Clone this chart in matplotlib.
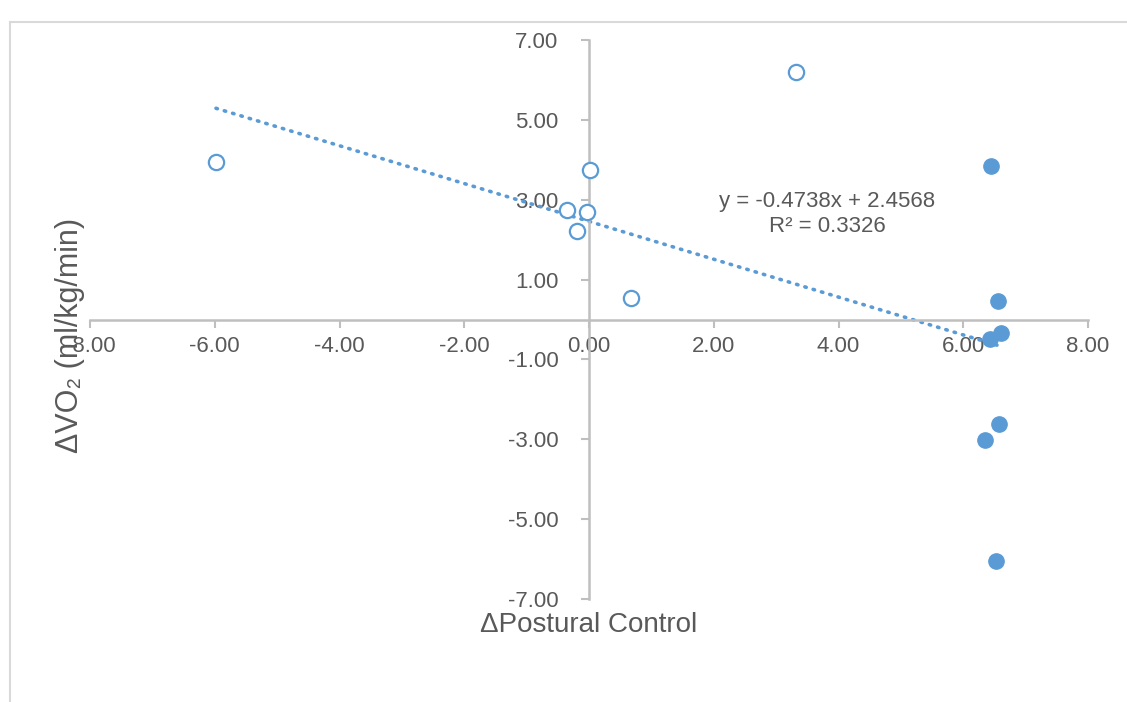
import matplotlib
matplotlib.use("Agg")
import matplotlib.pyplot as plt
from matplotlib.lines import Line2D
import numpy as np

# open markers and filled markers
open_x = [-5.98, 3.32, 0.02, -0.35, -0.03, -0.19, 0.67]
open_y = [3.94, 6.20, 3.74, 2.74, 2.69, 2.22, 0.54]
filled_x = [6.44, 6.55, 6.60, 6.43, 6.57, 6.35, 6.52]
filled_y = [3.84, 0.46, -0.34, -0.49, -2.62, -3.02, -6.05]

slope = -0.4738
intercept = 2.4568
r2 = 0.3326

x_ticks = [-8, -6, -4, -2, 0, 2, 4, 6, 8]
y_ticks = [-7, -5, -3, -1, 1, 3, 5, 7]

blue = '#5B9BD5'
grey_txt = '#595959'
axis_col = '#BFBFBF'

plt.rcParams['font.family'] = ['Liberation Sans', 'DejaVu Sans']

fig = plt.figure(figsize=(11.27, 7.02), dpi=100)
ax = fig.add_axes([90/1127, 1-599/702, (1088-90)/1127, (599-40)/702])

ax.set_xlim(-8, 8)
ax.set_ylim(-7, 7)

# trend line over data range
all_x = np.array(open_x + filled_x)
tx = np.array([all_x.min(), all_x.max()])
ax.plot(tx, slope*tx + intercept, color=blue, lw=2.6, linestyle=(0, (0.4, 2.0)),
        dash_capstyle='round', zorder=2)

ax.plot(open_x, open_y, 'o', ms=11, mfc='white', mec=blue, mew=1.6, zorder=3, clip_on=False)
ax.plot(filled_x, filled_y, 'o', ms=11, mfc=blue, mec=blue, mew=1.0, zorder=3, clip_on=False)

for s in ['top', 'right']:
    ax.spines[s].set_visible(False)
ax.spines['left'].set_position(('data', 0))
ax.spines['bottom'].set_position(('data', 0))
for s in ['left', 'bottom']:
    ax.spines[s].set_color(axis_col)
    ax.spines[s].set_linewidth(1.8)

ax.set_xticks(x_ticks)
ax.set_yticks(y_ticks)
ax.set_xticklabels(['{:.2f}'.format(v) for v in x_ticks])
ax.set_yticklabels(['{:.2f}'.format(v) for v in y_ticks])
ax.tick_params(axis='both', colors=axis_col, labelcolor=grey_txt, labelsize=16,
               length=6, width=1.5, direction='out')
ax.tick_params(axis='y', pad=16)
ax.tick_params(axis='x', pad=6)
ax.patch.set_alpha(0)

ax.text(3.82, 2.64, 'y = -0.4738x + 2.4568\nR² = {}'.format(r2), ha='center', va='center',
        fontsize=16, color=grey_txt, linespacing=1.3)

fig.text(589/1127, 1-625/702, 'ΔPostural Control', ha='center', va='center',
         fontsize=20, color=grey_txt)
fig.text(70/1127, 1-335/702, 'ΔVO₂ (ml/kg/min)', ha='center', va='center',
         rotation=90, fontsize=22, color=grey_txt)

# chart area border (cut off at right and bottom)
fig.add_artist(Line2D([10/1127, 1.0], [1-22/702, 1-22/702], color='#D9D9D9', lw=1.5))
fig.add_artist(Line2D([10/1127, 10/1127], [0.0, 1-22/702], color='#D9D9D9', lw=1.5))

fig.savefig('out.png', dpi=100)
